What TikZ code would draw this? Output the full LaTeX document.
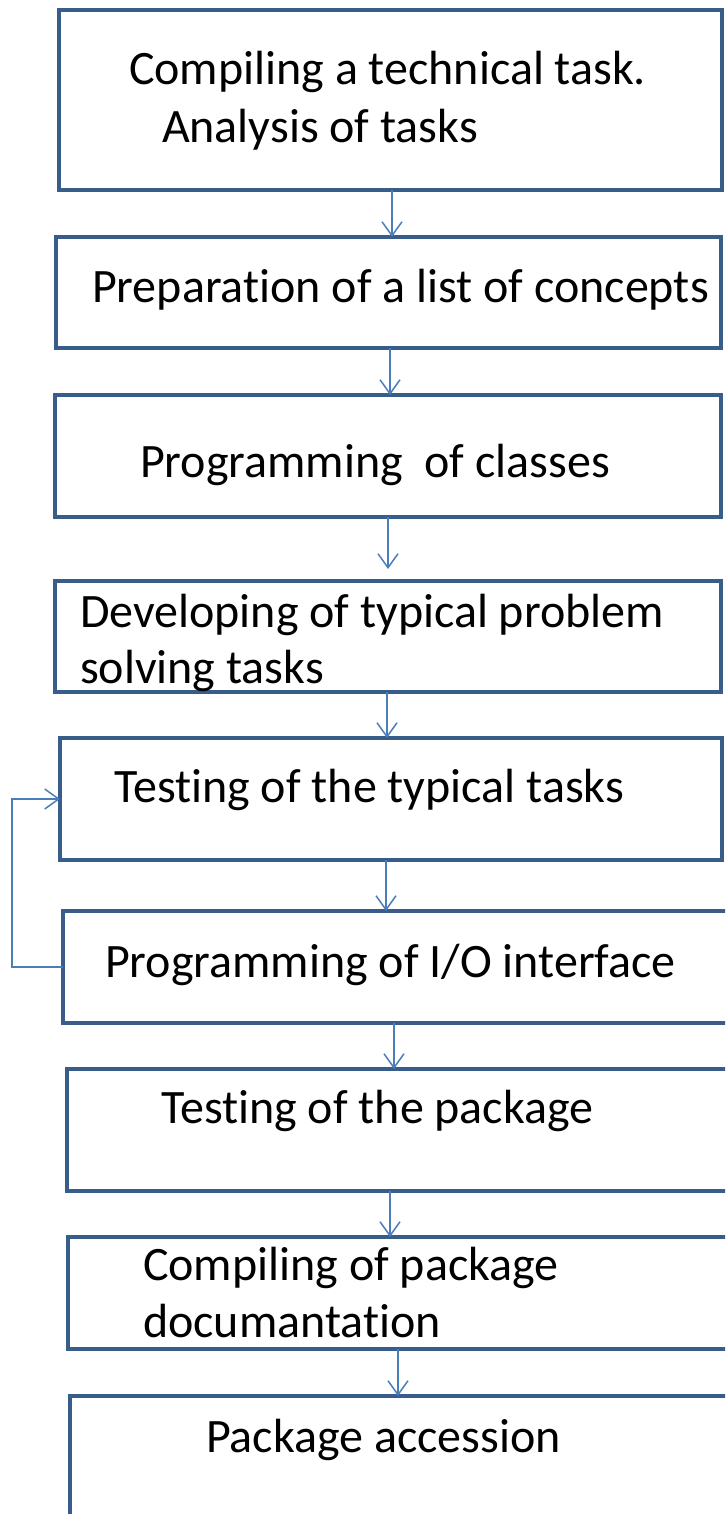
\documentclass[tikz,border=0pt]{standalone}
\usepackage{fontspec}
\setmainfont{Carlito}[Ligatures=NoCommon]
\usetikzlibrary{arrows.meta}
\definecolor{boxblue}{HTML}{385D8A}
\definecolor{arrblue}{HTML}{4A7EBB}
\tikzset{
  box/.style={draw=boxblue, line width=4.5pt, anchor=north west, inner sep=0pt, outer sep=0pt, line join=miter},
  lbl/.style={anchor=base west, inner sep=0pt, outer sep=0pt, font=\fontsize{48}{58}\selectfont},
  arr/.style={draw=arrblue, line width=1.5pt, -{Straight Barb[length=14pt,width=20pt,line width=1.5pt]}}
}
\begin{document}
\begin{tikzpicture}[x=1pt,y=-1pt]
\useasboundingbox (0,0) rectangle (725,1514);
\clip (0,0) rectangle (725,1514);
% boxes
\node[box, minimum width=663pt, minimum height=180pt] (b1) at (59,10) {};
\node[box, minimum width=665pt, minimum height=111pt] (b2) at (56,237) {};
\node[box, minimum width=666pt, minimum height=122pt] (b3) at (55,395) {};
\node[box, minimum width=666pt, minimum height=111pt] (b4) at (55,581) {};
\node[box, minimum width=662pt, minimum height=122pt] (b5) at (60,738) {};
\node[box, minimum width=680pt, minimum height=112pt] (b6) at (63,911) {};
\node[box, minimum width=680pt, minimum height=122pt] (b7) at (67,1069) {};
\node[box, minimum width=680pt, minimum height=112pt] (b8) at (68,1237) {};
\node[box, minimum width=680pt, minimum height=150pt] (b9) at (70,1396) {};
% texts
\node[lbl] (t1a) at (129,85) {Compiling a technical task.};
\node[lbl] (t1b) at (162,143) {Analysis of tasks};
\node[lbl] (t2) at (92,302) {Preparation of a list of concepts};
\node[lbl] (t3) at (140,477) {Programming\ \ of classes};
\node[lbl] (t4a) at (80,627) {Developing of typical problem};
\node[lbl] (t4b) at (80,683) {solving tasks};
\node[lbl] (t5) at (114,802) {Testing of the typical tasks};
\node[lbl] (t6) at (105,977) {Programming of I/O interface};
\node[lbl] (t7) at (161,1123) {Testing of the package};
\node[lbl] (t8a) at (143,1280) {Compiling of package};
\node[lbl] (t8b) at (143,1337) {documantation};
\node[lbl] (t9) at (206,1452) {Package accession};
% arrows
\draw[arr] (b1.south -| 392,0) -- (b2.north -| 392,0);
\draw[arr] (b2.south -| 390,0) -- (b3.north -| 390,0);
\draw[arr, line width=2pt] (b3.south -| 388,0) -- ([yshift=12pt]b4.north -| 388,0);
\draw[arr] (b4.south -| 387,0) -- (b5.north -| 387,0);
\draw[arr] (b5.south -| 386,0) -- (b6.north -| 386,0);
\draw[arr] (b6.south -| 394,0) -- (b7.north -| 394,0);
\draw[arr] (b7.south -| 390,0) -- (b8.north -| 390,0);
\draw[arr] (b8.south -| 398,0) -- (b9.north -| 398,0);
% feedback loop
\coordinate (c1) at (12,967);
\coordinate (c2) at (12,799);
\draw[arr] (b6.west |- c1) -- (c1) -- (c2) -- (b5.west |- c2);
\end{tikzpicture}
\end{document}
